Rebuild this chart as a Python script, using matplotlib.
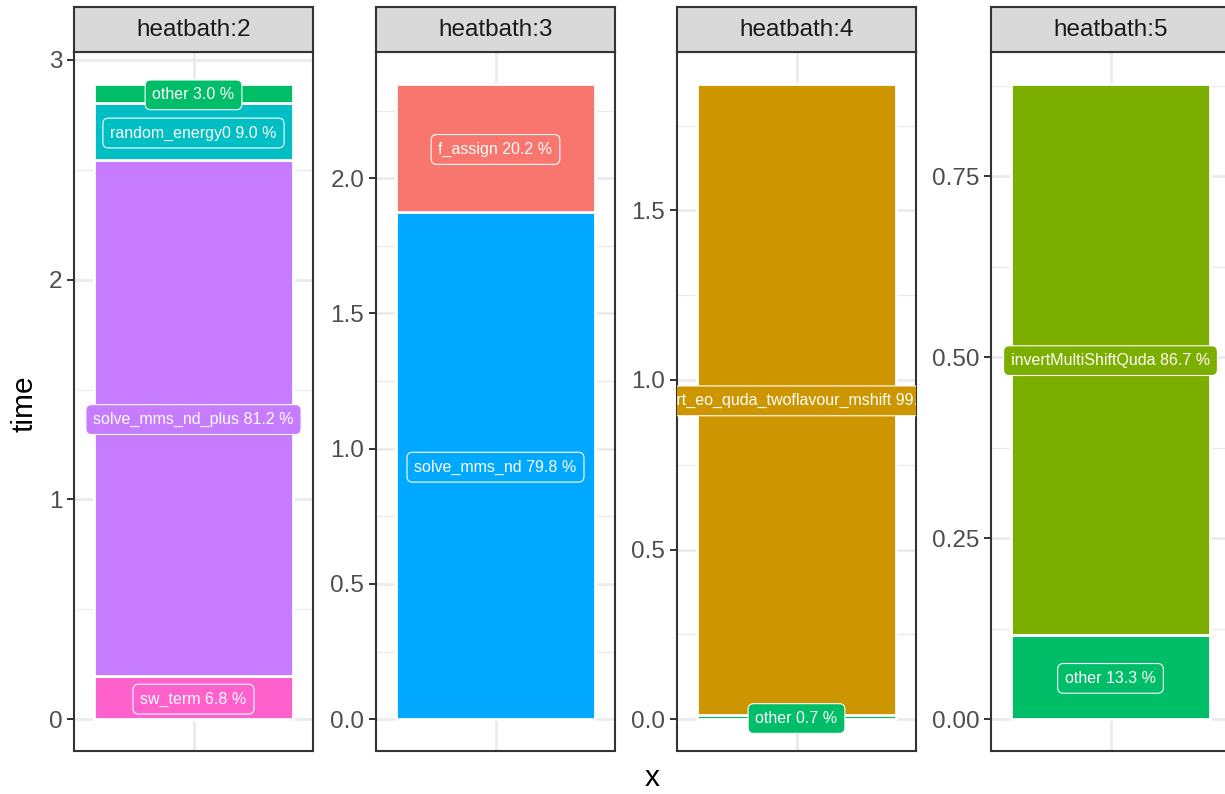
import matplotlib
matplotlib.use('Agg')
import matplotlib.pyplot as plt
from matplotlib.ticker import MultipleLocator, FormatStrFormatter

plt.rcParams['font.family'] = ['Liberation Sans', 'DejaVu Sans']

# facet names
panels = ['heatbath:2', 'heatbath:3', 'heatbath:4', 'heatbath:5']

# functions per facet, stacked bottom -> top, and their time
hb2_funcs = ['sw_term', 'solve_mms_nd_plus', 'random_energy0', 'other']
hb2_time = [0.197, 2.347, 0.260, 0.087]
hb3_funcs = ['solve_mms_nd', 'f_assign']
hb3_time = [1.875, 0.474]
hb4_funcs = ['other', 'invert_eo_quda_twoflavour_mshift']
hb4_time = [0.013, 1.860]
hb5_funcs = ['other', 'invertMultiShiftQuda']
hb5_time = [0.117, 0.761]

funcs = [hb2_funcs, hb3_funcs, hb4_funcs, hb5_funcs]
times = [hb2_time, hb3_time, hb4_time, hb5_time]

# ggplot default hue palette
fill = {
    'f_assign': '#F8766D',
    'invert_eo_quda_twoflavour_mshift': '#CD9600',
    'invertMultiShiftQuda': '#7CAE00',
    'other': '#00BE67',
    'random_energy0': '#00BFC4',
    'solve_mms_nd': '#00A9FF',
    'solve_mms_nd_plus': '#C77CFF',
    'sw_term': '#FF61CC',
}

steps = [1.0, 0.5, 0.5, 0.25]
fmts = ['%d', '%.1f', '%.1f', '%.2f']

W, H = 1225, 794
fig = plt.figure(figsize=(W / 100, H / 100), dpi=100)

lefts = [74, 376, 677, 991]
pw = 239
top, bottom, strip_top = 52, 751, 7
grid_col = '#EBEBEB'
frame_col = '#333333'

for i, name in enumerate(panels):
    x0 = lefts[i]
    ax = fig.add_axes([x0 / W, 1 - bottom / H, pw / W, (bottom - top) / H])
    total = sum(times[i])

    b = 0.0
    for f, t in zip(funcs[i], times[i]):
        ax.bar(1, t, bottom=b, width=1, color=fill[f], edgecolor='white',
               linewidth=2.0, zorder=2)
        ax.text(1, b + t / 2, f'{f} {100 * t / total:.1f} %', ha='center',
                va='center_baseline', color='white', fontsize=11.5, zorder=5,
                clip_on=True,
                bbox=dict(boxstyle='round,pad=0.46,rounding_size=0.35',
                          fc=fill[f], ec='white', lw=0.8))
        b += t

    ax.set_xlim(0.4, 1.6)
    ax.set_ylim(-0.05 * total, 1.05 * total)
    ax.set_xticks([1])
    ax.set_xticklabels([])
    ax.tick_params(axis='x', length=0)
    ax.yaxis.set_major_locator(MultipleLocator(steps[i]))
    ax.yaxis.set_minor_locator(MultipleLocator(steps[i] / 2))
    ax.yaxis.set_major_formatter(FormatStrFormatter(fmts[i]))
    ax.tick_params(axis='y', which='major', length=5, width=1.4,
                   color=frame_col, labelsize=17.5, labelcolor='#4D4D4D',
                   pad=3.5)
    ax.tick_params(axis='y', which='minor', length=0)
    ax.grid(True, which='major', color=grid_col, lw=2.0)
    ax.grid(True, which='minor', axis='y', color=grid_col, lw=1.0)
    ax.set_axisbelow(True)
    for s in ax.spines.values():
        s.set_color(frame_col)
        s.set_linewidth(1.5)

    # facet strip
    sax = fig.add_axes([x0 / W, 1 - top / H, pw / W, (top - strip_top) / H])
    sax.set_facecolor('#D9D9D9')
    sax.set_xticks([])
    sax.set_yticks([])
    for s in sax.spines.values():
        s.set_color(frame_col)
        s.set_linewidth(1.5)
    sax.text(0.5, 0.48, name, ha='center', va='center', fontsize=17.5,
             color='#1A1A1A', transform=sax.transAxes)

fig.text(25 / W, 1 - 404 / H, 'time', rotation=90, ha='center', va='center',
         fontsize=21.5)
fig.text(652 / W, 1 - 778 / H, 'x', ha='center', va='center', fontsize=21.5)

fig.savefig('out.png', dpi=100)
